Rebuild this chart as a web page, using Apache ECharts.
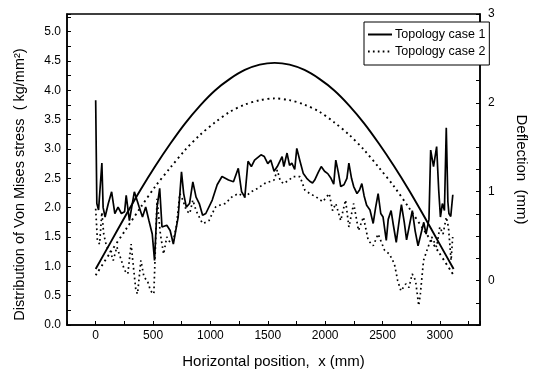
<!DOCTYPE html>
<html>
<head>
<meta charset="utf-8">
<script src="https://cdn.jsdelivr.net/npm/echarts@6/dist/echarts.min.js"></script>
<style>
html,body{margin:0;padding:0;background:#fff;}
#chart{width:537px;height:374px;}
</style>
</head>
<body>
<div id="chart"></div>
<script>
// ---- Data ----
const seriesNames = ['Topology case 1', 'Topology case 2'];

// Von Mises stress, topology case 1 (solid)
const stress1X = [0,0,10,25,54,65,82,110,139,167,195,224,252,266,294,337,379,408,436,464,493,513,535,558,578,620,649,677,719,748,767,790,818,847,875,903,932,960,1016,1059,1101,1158,1201,1243,1272,1300,1328,1357,1385,1441,1470,1500,1526,1555,1583,1625,1640,1668,1690,1710,1735,1753,1780,1810,1840,1866,1890,1909,1940,1966,1995,2023,2051,2075,2093,2115,2136,2164,2190,2207,2230,2249,2278,2300,2320,2340,2362,2391,2419,2440,2462,2485,2505,2533,2550,2575,2595,2620,2640,2665,2690,2710,2735,2760,2785,2810,2835,2860,2880,2905,2920,2945,2972,2990,3005,3022,3040,3056,3070,3079,3095,3113];
const stress1Y = [3.83,3.83,2.07,1.96,2.76,2.00,1.84,2.07,2.27,1.90,2.01,1.90,1.93,2.21,1.78,2.27,2.01,1.84,2.01,1.78,1.55,1.10,2.01,2.33,1.67,1.70,1.61,1.38,1.84,2.61,2.24,2.01,2.07,2.44,2.18,2.07,1.87,1.90,2.13,2.39,2.53,2.47,2.44,2.67,2.27,2.18,2.79,2.70,2.81,2.90,2.87,2.75,2.81,2.62,2.70,2.87,2.70,2.93,2.72,2.76,2.65,3.01,2.80,2.58,2.50,2.45,2.42,2.47,2.60,2.70,2.62,2.58,2.50,2.40,2.81,2.60,2.36,2.39,2.50,2.76,2.50,2.36,2.24,2.30,2.41,2.20,2.04,1.96,1.73,2.00,2.24,1.90,1.84,1.44,1.80,1.95,1.70,1.41,1.70,2.05,1.75,1.45,1.70,1.95,1.60,1.35,1.55,1.75,1.55,1.80,2.98,2.70,3.04,2.30,1.84,2.07,1.95,3.36,2.10,1.90,1.85,2.22];

// Von Mises stress, topology case 2 (dotted)
const stress2X = [0,15,34,54,70,96,125,153,185,224,252,280,309,323,351,365,394,422,450,479,507,535,564,592,620,650,677,705,733,760,790,820,847,875,903,931,960,988,1016,1045,1090,1130,1186,1243,1300,1356,1413,1470,1555,1583,1610,1640,1690,1724,1781,1823,1866,1923,1979,2036,2065,2093,2136,2178,2207,2249,2291,2334,2376,2419,2462,2519,2561,2604,2632,2661,2703,2731,2759,2788,2816,2830,2858,2887,2929,2972,3000,3028,3056,3075,3098,3112];
const stress2Y = [1.98,1.44,1.38,1.92,1.55,1.33,1.27,1.10,1.33,1.10,0.93,0.87,1.38,1.10,0.58,0.53,1.10,0.81,0.76,0.58,0.53,2.15,1.55,1.21,1.50,1.40,1.44,1.70,2.24,2.13,1.95,1.90,2.13,1.95,1.84,1.73,1.75,1.78,1.90,2.01,2.05,2.07,2.18,2.24,2.18,2.27,2.33,2.41,2.47,2.64,2.45,2.41,2.48,2.53,2.53,2.30,2.24,2.18,2.10,2.24,1.95,2.07,1.78,2.13,1.67,2.07,1.61,1.84,1.44,1.35,1.55,1.27,1.21,1.04,0.76,0.58,0.70,0.64,0.87,0.76,0.33,0.53,1.10,1.27,1.50,1.33,1.67,1.55,1.84,1.67,1.10,1.50];

// Deflection (right axis)
const deflX = [0,130,260,390,520,650,780,910,1040,1170,1300,1430,1560,1690,1820,1950,2080,2210,2340,2470,2600,2730,2860,2990,3120];
const defl1 = [0.13,0.43,0.73,1.02,1.29,1.54,1.77,1.97,2.14,2.27,2.37,2.43,2.45,2.43,2.37,2.27,2.14,1.97,1.77,1.54,1.29,1.02,0.73,0.43,0.13];
const defl2 = [0.06,0.32,0.57,0.82,1.06,1.27,1.47,1.64,1.78,1.90,1.98,2.03,2.05,2.03,1.98,1.90,1.78,1.64,1.47,1.27,1.06,0.82,0.57,0.32,0.06];

// Axis tick labels
const xTickLabels = [0,500,1000,1500,2000,2500,3000];
const leftTickLabels = [0,0.5,1,1.5,2,2.5,3,3.5,4,4.5,5];
const rightTickLabels = [0,1,2,3];

const zip = (xs, ys) => xs.map((x, i) => [x, ys[i]]);
const FONT = '"Liberation Sans", Arial, sans-serif';
const near = (v, arr) => arr.some(a => Math.abs(a - v) < 1e-6);

const chart = echarts.init(document.getElementById('chart'), null, {renderer: 'canvas'});
const axisLineStyle = {color: '#000', width: 1.5};

chart.setOption({
  animation: false,
  backgroundColor: '#fff',
  grid: {left: 67, right: 45, top: 14, bottom: 49, show: true, borderColor: '#000', borderWidth: 1.5, containLabel: false},
  legend: {
    data: seriesNames,
    orient: 'vertical',
    left: 364, top: 22,
    padding: [6, 4, 7, 3],
    itemGap: 4,
    itemWidth: 24, itemHeight: 14,
    borderColor: '#000', borderWidth: 1,
    backgroundColor: '#fff',
    itemStyle: {opacity: 0},
    textStyle: {fontFamily: FONT, fontSize: 12.5, color: '#000', padding: [0, 0, 0, -2]}
  },
  xAxis: {
    type: 'value', min: -250, max: 3350, interval: 250,
    name: 'Horizontal position,  x (mm)', nameLocation: 'middle', nameGap: 29,
    nameTextStyle: {fontFamily: FONT, fontSize: 15, color: '#000'},
    axisLine: {show: true, onZero: false, lineStyle: axisLineStyle},
    axisTick: {inside: true, length: 4, lineStyle: {color: '#000'}},
    axisLabel: {margin: 5, fontFamily: FONT, fontSize: 12, color: '#000',
      formatter: v => near(v, xTickLabels) ? String(v) : ''},
    splitLine: {show: false}
  },
  yAxis: [{
    type: 'value', min: 0, max: 5.3, interval: 0.25, position: 'left',
    name: 'Distribution of Von Mises stress  ( kg/mm\u00B2)', nameLocation: 'middle', nameGap: 40, nameRotate: 90,
    nameTextStyle: {fontFamily: FONT, fontSize: 14.5, color: '#000', padding: [0, 30, 0, 0]},
    axisLine: {show: true, onZero: false, lineStyle: axisLineStyle},
    axisTick: {inside: true, length: 4, lineStyle: {color: '#000'}},
    axisLabel: {margin: 6, fontFamily: FONT, fontSize: 12, color: '#000',
      formatter: v => near(v, leftTickLabels) ? v.toFixed(1) : ''},
    splitLine: {show: false}
  }, {
    type: 'value', min: -0.5, max: 3, interval: 0.25, position: 'right',
    name: 'Deflection  (mm)', nameLocation: 'middle', nameGap: 34, nameRotate: -90,
    nameTextStyle: {fontFamily: FONT, fontSize: 15, color: '#000'},
    axisLine: {show: true, onZero: false, lineStyle: axisLineStyle},
    axisTick: {inside: true, length: 4, lineStyle: {color: '#000'}},
    axisLabel: {margin: 8, fontFamily: FONT, fontSize: 12, color: '#000',
      formatter: v => near(v, rightTickLabels) ? String(Math.round(v)) : ''},
    splitLine: {show: false}
  }],
  series: [
    {name: seriesNames[0], type: 'line', yAxisIndex: 0, data: zip(stress1X, stress1Y), symbol: 'none', showSymbol: false,
      lineStyle: {color: '#000', width: 1.7, type: 'solid'}, itemStyle: {color: '#000'}},
    {name: seriesNames[1], type: 'line', yAxisIndex: 0, data: zip(stress2X, stress2Y), symbol: 'none', showSymbol: false,
      lineStyle: {color: '#000', width: 1.7, type: [1.7, 3.2]}, itemStyle: {color: '#000'}},
    {name: seriesNames[0], type: 'line', yAxisIndex: 1, data: zip(deflX, defl1), symbol: 'none', showSymbol: false, smooth: 0.3,
      lineStyle: {color: '#000', width: 1.9, type: 'solid'}, itemStyle: {color: '#000'}},
    {name: seriesNames[1], type: 'line', yAxisIndex: 1, data: zip(deflX, defl2), symbol: 'none', showSymbol: false, smooth: 0.3,
      lineStyle: {color: '#000', width: 1.9, type: [1.9, 3.6]}, itemStyle: {color: '#000'}}
  ]
});
</script>
</body>
</html>
